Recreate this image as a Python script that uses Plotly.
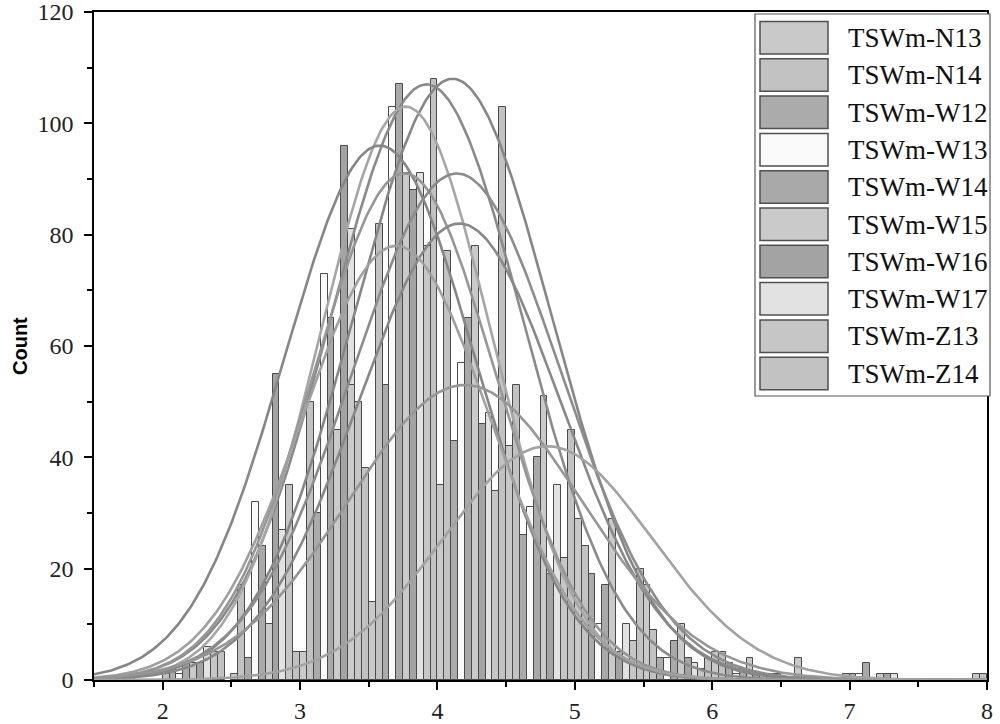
import numpy as np
import plotly.graph_objects as go

# ---------------- data ----------------
series_names = ["TSWm-N13", "TSWm-N14", "TSWm-W12", "TSWm-W13", "TSWm-W14",
                "TSWm-W15", "TSWm-W16", "TSWm-W17", "TSWm-Z13", "TSWm-Z14"]
series_fill = ["#c9c9c9", "#c2c2c2", "#ababab", "#fafafa", "#a9a9a9",
               "#cacaca", "#a3a3a3", "#e2e2e2", "#c6c6c6", "#c2c2c2"]

bin_width = 0.05
hist_x = [1.775, 2.025, 2.075, 2.125, 2.175, 2.225, 2.275, 2.325, 2.375, 2.425,
          2.525, 2.575, 2.625, 2.675, 2.725, 2.775, 2.825, 2.875, 2.925, 2.975,
          3.025, 3.075, 3.125, 3.175, 3.225, 3.275, 3.325, 3.375, 3.425, 3.475,
          3.525, 3.575, 3.625, 3.675, 3.725, 3.775, 3.825, 3.875, 3.925, 3.975,
          4.025, 4.075, 4.125, 4.175, 4.225, 4.275, 4.325, 4.375, 4.425, 4.475,
          4.525, 4.575, 4.625, 4.675, 4.725, 4.775, 4.825, 4.875, 4.925, 4.975,
          5.025, 5.075, 5.125, 5.175, 5.225, 5.275, 5.325, 5.375, 5.425, 5.475,
          5.525, 5.575, 5.625, 5.675, 5.725, 5.775, 5.825, 5.875, 5.925, 5.975,
          6.025, 6.075, 6.125, 6.175, 6.225, 6.275, 6.325, 6.375, 6.425, 6.475,
          6.625, 6.975, 7.025, 7.075, 7.125, 7.225, 7.275, 7.325, 7.925, 7.975]
hist_count = [1, 1, 2, 1, 3, 3, 3, 6, 5, 5,
              1, 17, 4, 32, 24, 10, 55, 27, 35, 5,
              5, 50, 30, 73, 65, 45, 96, 81, 50, 38,
              14, 82, 53, 103, 107, 91, 88, 91, 78, 108,
              35, 77, 43, 57, 65, 78, 46, 48, 34, 103,
              42, 53, 26, 31, 40, 51, 19, 35, 22, 45,
              29, 24, 19, 10, 17, 29, 5, 10, 7, 20,
              17, 9, 4, 4, 7, 10, 4, 3, 2, 4,
              5, 5, 3, 1, 2, 4, 1, 1, 1, 1,
              4, 1, 1, 1, 3, 1, 1, 1, 1, 1]
# shorter bar of another sample seen in front inside a bin
inner_x = [3.375]
inner_count = [53]

# Gaussian fit parameters (peak height, centre, width)
fit_amp = [108, 107, 103, 96, 91, 91, 82, 78, 53, 42]
fit_mean = [4.11, 3.92, 3.77, 3.58, 3.76, 4.14, 4.16, 3.70, 4.20, 4.80]
fit_sigma = [0.72, 0.70, 0.62, 0.69, 0.66, 0.76, 0.74, 0.68, 0.85, 0.76]
fit_color = ["#868686", "#8a8a8a", "#a6a6a6", "#868686", "#969696",
             "#8c8c8c", "#888888", "#a0a0a0", "#969696", "#a2a2a2"]

x_range = [1.5, 8]
y_range = [0, 120]

# ---------------- figure ----------------
fig = go.Figure()

for s, name in enumerate(series_names):
    xs = [x for i, x in enumerate(hist_x) if i % 10 == s]
    ys = [y for i, y in enumerate(hist_count) if i % 10 == s]
    fig.add_trace(go.Bar(x=xs, y=ys, width=bin_width, name=name,
                         marker=dict(color=series_fill[s],
                                     line=dict(color="#4a4a4a", width=1)),
                         showlegend=False))

fig.add_trace(go.Bar(x=inner_x, y=inner_count, width=bin_width, name=series_names[5],
                     marker=dict(color=series_fill[5], line=dict(color="#4a4a4a", width=1)),
                     showlegend=False))

xg = np.linspace(x_range[0], x_range[1], 500)
for a, m, sd, c in zip(fit_amp, fit_mean, fit_sigma, fit_color):
    fig.add_trace(go.Scatter(x=xg, y=a * np.exp(-(xg - m) ** 2 / (2 * sd ** 2)),
                             mode="lines", line=dict(color=c, width=2.6),
                             showlegend=False, hoverinfo="skip"))

# ---------------- custom legend ----------------
L, R, T, B = 94, 987, 12, 680
def px(xp):
    return (xp - L) / (R - L)
def py(yp):
    return (B - yp) / (B - T)

shapes = [dict(type="rect", xref="paper", yref="paper",
               x0=px(755), x1=px(990), y0=py(396), y1=py(14),
               line=dict(color="#555555", width=1.2), fillcolor="white", layer="above")]
annotations = []
for i, name in enumerate(series_names):
    top = 21.5 + 37.3 * i
    shapes.append(dict(type="rect", xref="paper", yref="paper",
                       x0=px(760), x1=px(828), y0=py(top + 32.5), y1=py(top),
                       line=dict(color="#505050", width=1.5),
                       fillcolor=series_fill[i], layer="above"))
    annotations.append(dict(xref="paper", yref="paper", x=px(846), y=py(top + 16.5),
                            text=name, showarrow=False, xanchor="left", yanchor="middle",
                            font=dict(family="Liberation Serif", size=27, color="#111111")))

annotations.append(dict(xref="paper", yref="paper", x=px(20), y=py(346), text="<b>Count</b>",
                        textangle=-90, showarrow=False, xanchor="center", yanchor="middle",
                        font=dict(family="Liberation Sans", size=20, color="black")))

fig.update_layout(
    width=1000, height=724,
    margin=dict(l=L, r=1000 - R, t=T, b=724 - B, pad=0, autoexpand=False),
    paper_bgcolor="white", plot_bgcolor="white",
    barmode="overlay", bargap=0,
    shapes=shapes, annotations=annotations,
    showlegend=False,
    xaxis=dict(range=x_range, dtick=1, tick0=2, ticks="outside", ticklen=8, tickwidth=1.5,
               tickcolor="black", showline=True, linecolor="black", linewidth=1.5,
               mirror=True, showgrid=False, zeroline=False, automargin=False,
               ticklabeloverflow="allow",
               minor=dict(dtick=0.5, tick0=1.5, ticks="outside", ticklen=5, tickwidth=1.5,
                          tickcolor="black", showgrid=False),
               tickfont=dict(family="Liberation Serif", size=24, color="#222222")),
    yaxis=dict(range=y_range, dtick=20, ticks="outside", ticklen=8, tickwidth=1.5,
               tickcolor="black", showline=True, linecolor="black", linewidth=1.5,
               mirror=True, showgrid=False, zeroline=False, automargin=False,
               ticklabeloverflow="allow",
               minor=dict(dtick=10, ticks="outside", ticklen=5, tickwidth=1.5,
                          tickcolor="black", showgrid=False),
               ticklabelstandoff=6,
               tickfont=dict(family="Liberation Serif", size=24, color="#222222")),
)

fig.write_html("out.html")
